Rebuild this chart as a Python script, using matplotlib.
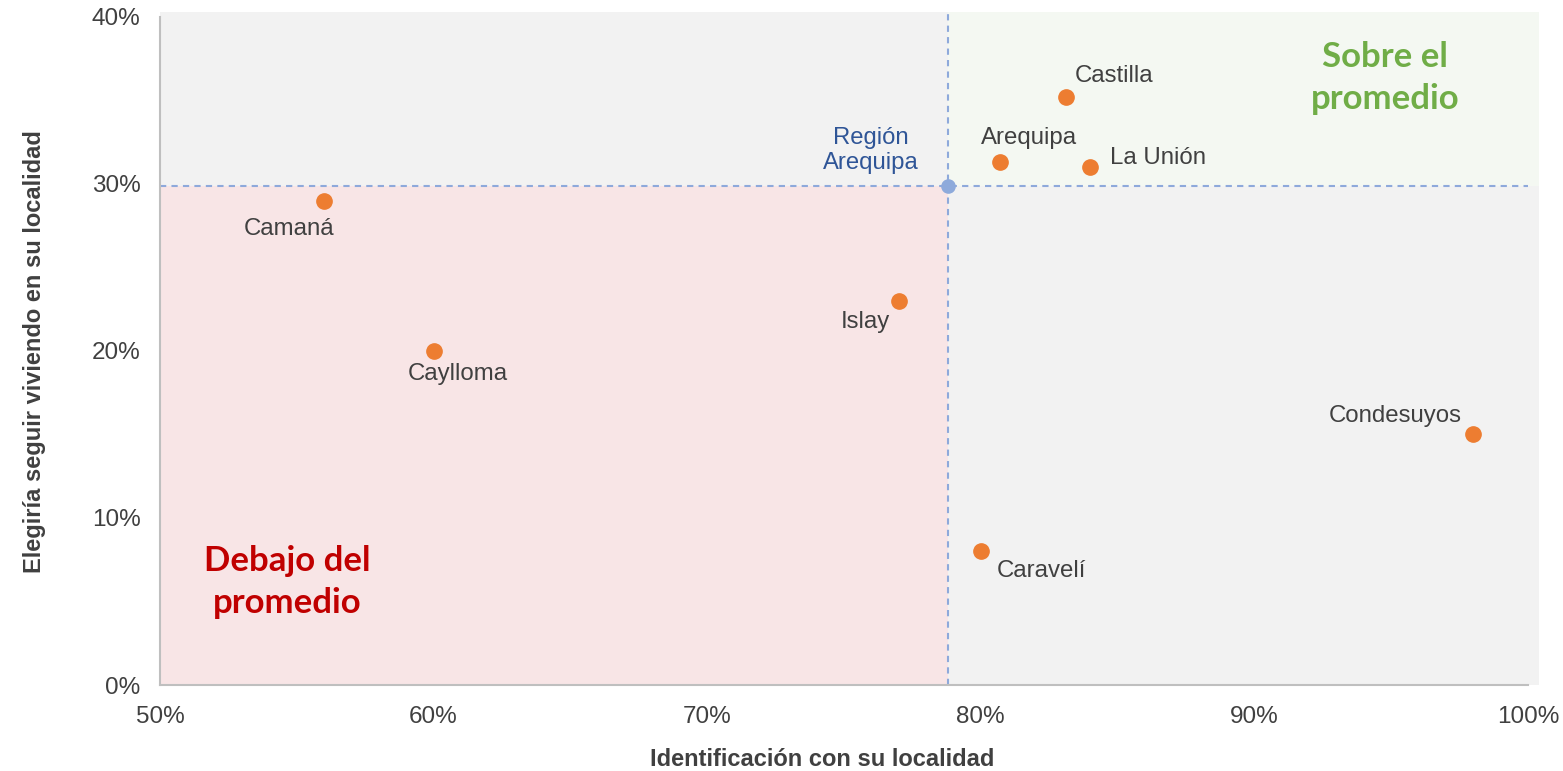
import matplotlib
matplotlib.use("Agg")
import matplotlib.pyplot as plt
from matplotlib.patches import Rectangle
from matplotlib.ticker import PercentFormatter

names = ["Castilla", "Arequipa", "La Unión", "Camaná", "Islay", "Caylloma", "Condesuyos", "Caravelí"]
identificacion = [83.1, 80.7, 84.0, 56.0, 77.0, 60.0, 98.0, 80.0]
elegiria = [35.2, 31.3, 31.0, 29.0, 23.0, 20.0, 15.0, 8.0]
region_name = "Región\nArequipa"
region_x = 78.8
region_y = 29.9
x_ticks = [50, 60, 70, 80, 90, 100]
y_ticks = [0, 10, 20, 30, 40]

# label offsets in pixels (dx, dy, ha)
offsets = {
    "Castilla": (9, 21, "left"),
    "Arequipa": (29, 24, "center"),
    "La Unión": (20, 9, "left"),
    "Camaná": (-35, -28, "center"),
    "Islay": (-33, -21, "center"),
    "Caylloma": (24, -23, "center"),
    "Condesuyos": (-12, 18, "right"),
    "Caravelí": (16, -20, "left"),
}

plt.rcParams['font.family'] = ['Liberation Sans', 'DejaVu Sans']

fig = plt.figure(figsize=(15.63, 7.71), dpi=100)
top_px, bot_px = 17, 685
ax = fig.add_axes([160/1563, 1-bot_px/771, (1528-160)/1563, (bot_px-top_px)/771])

xmin, xmax = 50, 100
ymin, ymax = 0, 40
ax.set_xlim(xmin, xmax)
ax.set_ylim(ymin, ymax)

ext_x = 100.4
ext_y = 40.3
gray = "#f2f2f2"
green = "#f4f8f2"
pink = "#f8e5e6"
ax.add_patch(Rectangle((xmin, ymin), ext_x - xmin, ext_y - ymin, facecolor=gray, edgecolor="none", clip_on=False, zorder=0))
ax.add_patch(Rectangle((region_x, region_y), ext_x - region_x, ext_y - region_y, facecolor=green, edgecolor="none", clip_on=False, zorder=0))
ax.add_patch(Rectangle((xmin, ymin), region_x - xmin, region_y - ymin, facecolor=pink, edgecolor="none", clip_on=False, zorder=0))

dash_col = "#8ea9db"
ax.plot([region_x, region_x], [ymin, ext_y], color=dash_col, lw=1.5, ls=(0, (3, 2.5)), clip_on=False, zorder=1)
ax.plot([xmin, xmax], [region_y, region_y], color=dash_col, lw=1.5, ls=(0, (3, 2.5)), zorder=1)

ax.plot(identificacion, elegiria, ls="none", marker="o", ms=11, color="#ed7d31", mec="#ed7d31", zorder=3)
ax.plot([region_x], [region_y], ls="none", marker="o", ms=9.5, color="#8eaadb", zorder=3)

for n, x, y in zip(names, identificacion, elegiria):
    dx, dy, ha = offsets[n]
    ax.annotate(n, (x, y), xytext=(dx, dy), textcoords="offset pixels", ha=ha, va="center",
                fontsize=17.3, color="#404040", zorder=4)

ax.annotate(region_name, (region_x, region_y), xytext=(-77, 35), textcoords="offset pixels",
            ha="center", va="center", fontsize=17.2, color="#2f5597", linespacing=1.2, zorder=4)

h = bot_px - top_px
ax.text((1385-160)/(1528-160), 1-(78-top_px)/h, "Sobre el\npromedio", transform=ax.transAxes,
        ha="center", va="center", fontsize=25, fontweight="bold", color="#70ad47",
        family=["Lato", "DejaVu Sans"], linespacing=1.42, zorder=4)
ax.text((287-160)/(1528-160), 1-(582-top_px)/h, "Debajo del\npromedio", transform=ax.transAxes,
        ha="center", va="center", fontsize=25, fontweight="bold", color="#c00000",
        family=["Lato", "DejaVu Sans"], linespacing=1.42, zorder=4)

ax.set_xticks(x_ticks)
ax.set_yticks(y_ticks)
ax.xaxis.set_major_formatter(PercentFormatter(decimals=0))
ax.yaxis.set_major_formatter(PercentFormatter(decimals=0))
ax.tick_params(length=0, labelsize=17.5, labelcolor="#404040")
ax.tick_params(axis="x", pad=15)
ax.tick_params(axis="y", pad=14)

for s in ["top", "right"]:
    ax.spines[s].set_visible(False)
for s in ["left", "bottom"]:
    ax.spines[s].set_color("#bfbfbf")
    ax.spines[s].set_linewidth(1.5)
    ax.spines[s].set_zorder(2)
ax.set_facecolor("none")

fig.text(822/1563, 1-760/771, "Identificación con su localidad", ha="center", va="center",
         fontsize=17, fontweight="bold", color="#404040")
fig.text(35/1563, 1-352/771, "Elegiría seguir viviendo en su localidad", ha="center", va="center",
         rotation=90, fontsize=17, fontweight="bold", color="#404040")

fig.savefig("out.png", dpi=100)
